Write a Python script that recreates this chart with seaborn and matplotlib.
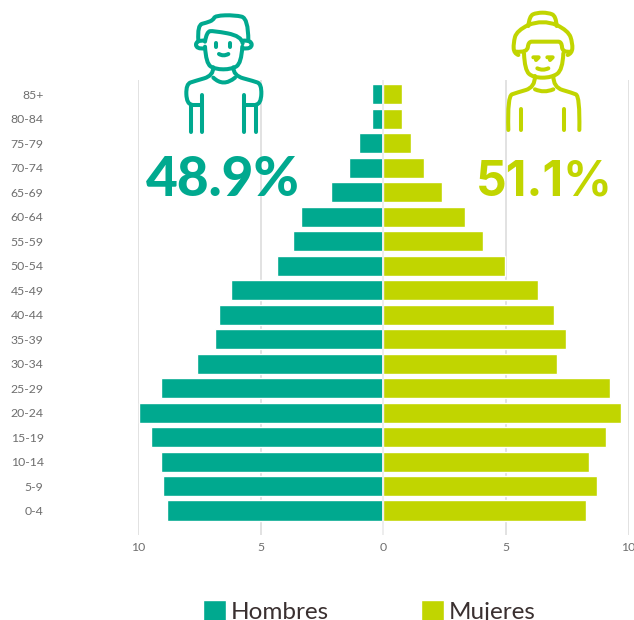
import pandas as pd
import seaborn as sns
import matplotlib.pyplot as plt
from matplotlib.path import Path
from matplotlib.patches import PathPatch

##################
## Data         ##
##################

edades = ['85+', '80-84', '75-79', '70-74', '65-69', '60-64', '55-59', '50-54', '45-49',
          '40-44', '35-39', '30-34', '25-29', '20-24', '15-19', '10-14', '5-9', '0-4']
hombres = [0.47, 0.47, 1.0, 1.4, 2.15, 3.37, 3.7, 4.35, 6.2,
           6.7, 6.87, 7.6, 9.08, 9.94, 9.45, 9.08, 9.0, 8.8]
mujeres = [0.75, 0.75, 1.15, 1.65, 2.38, 3.35, 4.05, 4.95, 6.3,
           6.95, 7.45, 7.1, 9.25, 9.7, 9.1, 8.38, 8.7, 8.25]
xticks = [-10, -5, 0, 5, 10]
xticklabels = ['10', '5', '0', '5', '10']

VERDE = '#00A98F'
LIMA = '#C1D500'

df = pd.DataFrame({
    'edad': edades * 2,
    'valor': [-v for v in hombres] + mujeres,
    'sexo': ['Hombres'] * len(edades) + ['Mujeres'] * len(edades),
})

sns.set_theme(style='white')
plt.rcParams['font.family'] = ['Lato', 'DejaVu Sans']

W, H = 634, 620
fig = plt.figure(figsize=(W / 100, H / 100), dpi=100)
ax = fig.add_axes([138 / W, 1 - 535 / H, 490.5 / W, 455 / H])

########################
## Piramide           ##
########################

sns.barplot(data=df, y='edad', x='valor', hue='sexo', order=edades, dodge=False, width=0.82,
            palette={'Hombres': VERDE, 'Mujeres': LIMA}, saturation=1, ax=ax, zorder=3)
ax.set_xlim(-10, 10)
ax.set_ylim(18.0, -0.59)
ax.set_xlabel('')
ax.set_ylabel('')
ax.set_xticks(xticks, xticklabels)
ax.grid(axis='x', color='#DDDDDD', lw=1.2, zorder=0)
ax.axvline(0, color='#EEEEEE', lw=1.4, zorder=4)
ax.tick_params(axis='y', length=0, pad=68, labelsize=8.8, labelcolor='#6E6E6E')
ax.tick_params(axis='x', length=0, pad=5, labelsize=8.8, labelcolor='#6E6E6E')
for lab in ax.get_xticklabels():
    lab.set_clip_on(False)
sns.despine(ax=ax, left=True, bottom=True)

leg = ax.legend(loc='lower left', bbox_to_anchor=(202.5 / W, -3 / H), bbox_transform=fig.transFigure,
                ncols=2, frameon=False, prop={'size': 17.5}, handlelength=0.95, handleheight=0.95,
                handletextpad=0.2, columnspacing=3.8, labelcolor='#3A3030', borderpad=0, borderaxespad=0)

########################
## Iconos y porcentajes ##
########################

# icon outlines are in 3x zoomed pixels from the icon's top-left corner
over = fig.add_axes([0, 0, 1, 1], zorder=5)
over.set_xlim(0, W)
over.set_ylim(H, 0)
over.axis('off')
over.patch.set_alpha(0)


def stroke(pts, color, ox, curved=True, fill=False):
    pts = [(ox + x / 3, 10 + y / 3) for x, y in pts]
    verts = [pts[0]]
    codes = [Path.MOVETO]
    if curved and len(pts) > 2:
        for i in range(1, len(pts) - 1):
            p, q = pts[i], pts[i + 1]
            end = q if i == len(pts) - 2 else ((p[0] + q[0]) / 2, (p[1] + q[1]) / 2)
            verts += [p, end]
            codes += [Path.CURVE3, Path.CURVE3]
    else:
        verts += pts[1:]
        codes += [Path.LINETO] * (len(pts) - 1)
    over.add_patch(PathPatch(Path(verts, codes), fc=color if fill else 'none', ec=color, lw=2.9,
                             capstyle='round', joinstyle='round'))


hombre = [
    [(55, 92), (52, 45), (80, 38), (100, 30), (105, 17), (165, 15), (205, 25), (205, 92)],
    [(75, 95), (80, 65), (100, 62), (185, 78), (188, 100)],
    [(75, 92), (48, 90), (48, 118), (75, 115)],
    [(188, 92), (215, 90), (215, 118), (188, 115)],
    [(75, 110), (78, 160), (105, 178), (155, 178), (184, 160), (187, 110)],
    [(108, 100), (108, 110)],
    [(150, 100), (150, 110)],
    [(117, 132), (130, 140), (145, 132)],
    [(100, 172), (100, 197), (45, 213), (18, 222), (20, 282), (35, 284)],
    [(160, 172), (160, 197), (220, 213), (245, 222), (243, 282), (228, 284)],
    [(100, 203), (130, 232), (165, 203)],
    [(32, 285), (32, 365)],
    [(67, 255), (67, 365)],
    [(193, 255), (193, 365)],
    [(228, 285), (228, 365)],
    [(32, 285), (67, 285)],
    [(193, 285), (228, 285)],
]
for p in hombre:
    stroke(p, VERDE, 180)

mujer = [
    [(85, 48), (88, 18), (110, 8), (145, 8), (168, 18), (170, 48)],
    [(85, 45), (128, 28), (170, 45)],
    [(85, 45), (50, 62), (40, 100), (42, 130), (55, 135)],
    [(170, 45), (205, 62), (218, 100), (216, 130), (203, 135)],
    [(48, 125), (82, 128), (85, 95), (105, 95), (165, 95), (185, 95), (187, 128), (212, 125)],
    [(72, 130), (74, 180), (100, 203), (155, 203), (188, 180), (190, 130)],
    [(112, 175), (128, 183), (145, 175)],
    [(105, 198), (105, 232), (50, 248), (22, 258), (25, 360)],
    [(160, 198), (160, 232), (215, 248), (240, 258), (238, 360)],
    [(105, 238), (132, 250), (160, 238)],
    [(63, 298), (63, 360)],
    [(193, 298), (193, 360)],
]
for p in mujer:
    stroke(p, LIMA, 500)
stroke([(100, 142), (116, 142), (108, 150)], LIMA, 500, curved=False, fill=True)
stroke([(142, 142), (158, 142), (150, 150)], LIMA, 500, curved=False, fill=True)

over.text(146, 196, '48.9%', color=VERDE, fontsize=39.5, fontweight='black', ha='left', va='baseline')
over.text(476, 196, '51.1%', color=LIMA, fontsize=34.5, family=['Inter', 'DejaVu Sans'],
          fontweight='bold', ha='left', va='baseline')

fig.savefig('out.png', dpi=100)
